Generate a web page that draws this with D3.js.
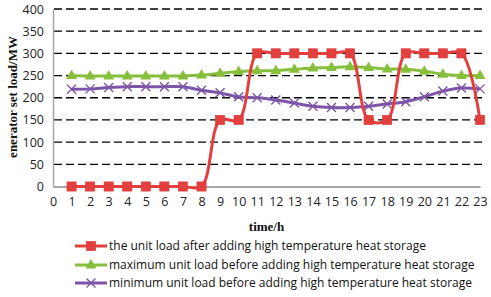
<!DOCTYPE html>
<html><head><meta charset="utf-8">
<script src="https://cdn.jsdelivr.net/npm/d3@7"></script>
<style>body{margin:0;background:#fff}svg{display:block}</style>
</head><body>
<script>
const hours = d3.range(1, 24);
const xTicks = d3.range(0, 24);
const yTicks = [0, 50, 100, 150, 200, 250, 300, 350, 400];
const afterLoad = [0,0,0,0,0,0,0,0,150,150,300,300,300,300,300,300,150,150,300,300,300,300,150];
const maxLoad = [250,249,249,249,249,249,249,251,255,259,261,261,264,267,268,270,268,265,264,260,253,250,250];
const minLoad = [219,220,223,225,225,225,225,217,211,202,200,195,188,181,178,178,181,186,191,202,215,222,220];
const seriesNames = [
  "the unit load after adding high temperature heat storage",
  "maximum unit load before adding high temperature heat storage",
  "minimum unit load before adding high temperature heat storage"
];
const colors = ["#e2403f", "#86bf3c", "#7d55a8"];

const W = 491, H = 297;
const svg = d3.select("body").append("svg").attr("width", W).attr("height", H);
const x = d3.scaleLinear().domain([0, 23]).range([53, 480]);
const y = d3.scaleLinear().domain([0, 400]).range([186.5, 9]);

// gridlines
svg.append("g").selectAll("line").data(yTicks.filter(d => d > 0)).join("line")
  .attr("x1", 54).attr("x2", 482).attr("y1", d => y(d)).attr("y2", d => y(d))
  .attr("stroke", "#000").attr("stroke-width", 1.3).attr("stroke-dasharray", "8,4");

// axes
const yAxis = d3.axisLeft(y).tickValues(yTicks).tickSize(0).tickPadding(9);
const gy = svg.append("g").attr("transform", "translate(53,0)").call(yAxis);
gy.select(".domain").attr("stroke", "#a6a6a6").attr("stroke-width", 1.5);
gy.selectAll("text").attr("font-family", "Open Sans, sans-serif").attr("font-size", 12.5).attr("fill", "#222");

const xAxis = d3.axisBottom(x).tickValues(xTicks).tickSize(0).tickPadding(11);
const gx = svg.append("g").attr("transform", "translate(0,186.5)").call(xAxis);
gx.select(".domain").attr("stroke", "#a6a6a6").attr("stroke-width", 2);
gx.selectAll("text").attr("font-family", "Open Sans, sans-serif").attr("font-size", 12.5).attr("fill", "#222");

// titles
svg.append("text").attr("transform", "translate(17,97) rotate(-90)").attr("text-anchor", "middle")
  .attr("font-family", "Liberation Serif, serif").attr("font-weight", "bold").attr("font-size", 13)
  .attr("fill", "#111").text("enerator set load/MW");
svg.append("text").attr("x", 266.5).attr("y", 231).attr("text-anchor", "middle")
  .attr("font-family", "Liberation Serif, serif").attr("font-weight", "bold").attr("font-size", 13)
  .attr("fill", "#111").text("time/h");

const data = [afterLoad, maxLoad, minLoad];
const line = d3.line().x((d, i) => x(hours[i])).y(d => y(d)).curve(d3.curveCatmullRom.alpha(0.5));

function marker(g, k, cx, cy) {
  if (k === 0) {
    g.append("rect").attr("x", cx - 4.6).attr("y", cy - 4.6).attr("width", 9.2).attr("height", 9.2)
      .attr("fill", colors[0]).attr("stroke", "#d33").attr("stroke-width", 0.6);
  } else if (k === 1) {
    g.append("path").attr("d", `M${cx},${cy - 6}L${cx + 5.5},${cy + 3.5}L${cx - 5.5},${cy + 3.5}Z`)
      .attr("fill", colors[1]);
  } else {
    g.append("path").attr("d", `M${cx - 4.5},${cy - 4.5}L${cx + 4.5},${cy + 4.5}M${cx + 4.5},${cy - 4.5}L${cx - 4.5},${cy + 4.5}`)
      .attr("stroke", colors[2]).attr("stroke-width", 1.4).attr("fill", "none");
  }
}

[2, 1, 0].forEach(k => {
  const g = svg.append("g");
  g.append("path").datum(data[k]).attr("d", line).attr("fill", "none")
    .attr("stroke", colors[k]).attr("stroke-width", 3);
  data[k].forEach((v, i) => marker(g, k, x(hours[i]), y(v)));
});

// legend
const legY = [246, 265, 283];
seriesNames.forEach((name, k) => {
  const g = svg.append("g");
  g.append("line").attr("x1", 75).attr("x2", 107).attr("y1", legY[k]).attr("y2", legY[k])
    .attr("stroke", colors[k]).attr("stroke-width", 3);
  marker(g, k, 91, legY[k]);
  g.append("text").attr("x", 109).attr("y", legY[k]).attr("dy", "0.35em")
    .attr("font-family", "Open Sans, sans-serif").attr("font-size", 12).attr("fill", "#111").text(name);
});
</script>
</body></html>
